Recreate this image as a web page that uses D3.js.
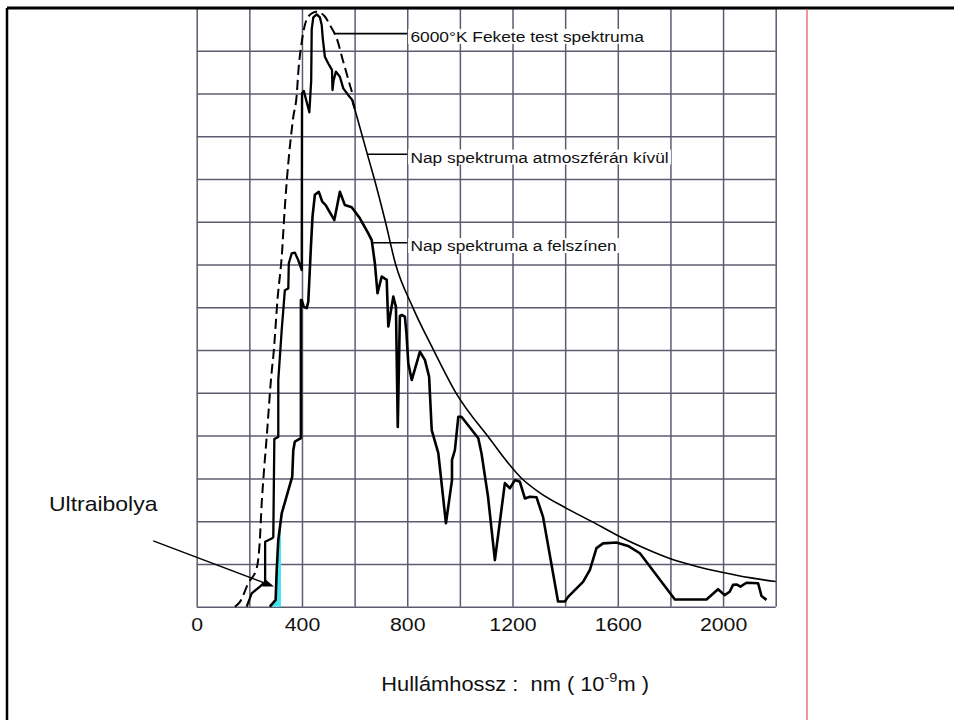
<!DOCTYPE html>
<html>
<head>
<meta charset="utf-8">
<script src="https://cdn.jsdelivr.net/npm/d3@7"></script>
<style>
  body { margin: 0; background: #fff; }
  svg { display: block; font-family: "Liberation Sans", Arial, sans-serif; }
</style>
</head>
<body>
<div id="chart"></div>
<script>
// wavelength in nm, intensity in grid cells (the original has no y scale)
const blackBody = [
  [145, 0], [165, 0.12], [196, 0.55], [228, 0.9], [240, 1.56], [247, 2.42], [253, 2.96],
  [266, 3.97], [285, 5.5], [291, 5.85], [308, 7.25], [323, 8.18], [335, 9.35], [348, 10.37],
  [361, 11.15], [367, 11.45], [380, 11.96], [386, 12.5], [399, 13.2], [411, 13.6], [424, 13.8],
  [456, 13.91], [487, 13.8], [506, 13.6], [532, 13.29], [557, 12.74], [582, 12.2], [595, 11.92]
];
const outsideAtmosphere = [
  [190, 0], [209, 0.31], [240, 0.47], [260, 0.58], [260, 1.52], [287, 1.6], [291, 1.63],
  [295, 3.92], [310, 3.97], [310, 5.3], [323, 6.47], [335, 7.4], [348, 7.44], [350, 8.03],
  [361, 8.26], [373, 8.28], [386, 8.1], [399, 7.87], [400, 12.0], [407, 12.06], [428, 11.56],
  [435, 12.3], [437, 13.5], [443, 13.78], [456, 13.85], [468, 13.78], [475, 13.6], [479, 13.29],
  [487, 12.86], [500, 12.7], [514, 12.55], [516, 12.08], [520, 12.3], [529, 12.51], [544, 12.39],
  [557, 12.12], [576, 11.96], [591, 11.85], [600, 11.65], [652, 10.5], [675, 10.0], [717, 9.0],
  [756, 8.0], [821, 7.0], [900, 6.0], [985, 5.0], [1109, 3.96], [1238, 2.98], [1300, 2.68],
  [1405, 2.3], [1502, 1.99], [1601, 1.66], [1700, 1.37], [1800, 1.12], [1900, 0.94], [2000, 0.8],
  [2100, 0.68], [2200, 0.59]
];
const atSurface = [
  [278, 0], [300, 0.16], [304, 0.86], [310, 1.56], [323, 2.18], [363, 3.04], [367, 3.66],
  [373, 3.86], [396, 3.94], [396, 7.17], [399, 7.17], [407, 7.01], [418, 6.98], [424, 7.13],
  [434, 8.42], [440, 9.12], [449, 9.63], [464, 9.7], [477, 9.47], [490, 9.39], [523, 9.04],
  [544, 9.7], [563, 9.39], [589, 9.34], [620, 9.08], [652, 8.73], [665, 8.57], [677, 8.03],
  [687, 7.33], [703, 7.72], [722, 7.64], [728, 6.55], [747, 7.25], [757, 7.01], [764, 4.2],
  [772, 6.8], [779, 6.82], [791, 6.78], [797, 6.39], [804, 5.69], [817, 5.3], [848, 5.96],
  [867, 5.77], [883, 5.38], [893, 4.13], [918, 3.59], [947, 1.95], [970, 2.96], [970, 3.43],
  [981, 3.66], [994, 4.44], [1006, 4.44], [1070, 3.94], [1082, 3.59], [1107, 2.57], [1133, 1.09],
  [1171, 2.89], [1190, 2.77], [1209, 2.96], [1228, 2.92], [1247, 2.53], [1266, 2.57], [1291, 2.56],
  [1316, 2.1], [1373, 0.12], [1399, 0.12], [1411, 0.23], [1468, 0.58], [1494, 0.86], [1519, 1.37],
  [1544, 1.48], [1595, 1.5], [1639, 1.42], [1684, 1.25], [1817, 0.17], [1937, 0.17], [1981, 0.41],
  [2006, 0.27], [2025, 0.35], [2038, 0.51], [2051, 0.52], [2066, 0.47], [2089, 0.56], [2133, 0.55],
  [2146, 0.25], [2165, 0.16]
];
const xTicks = [0, 400, 800, 1200, 1600, 2000];
const xGrid = d3.range(0, 2201, 200);
const yGrid = d3.range(0, 15);
const uvLimit = 320;
const jaggedEnd = 600;
const labels = [
  { text: '6000°K Fekete test spektruma', from: [521, 13.4] },
  { text: 'Nap spektruma atmoszférán kívül', from: [651, 10.58] },
  { text: 'Nap spektruma a felszínen', from: [670, 8.51] }
];

const W = 954, H = 720;
const stretch = 1.12; // lettering in the source is a bit wide

const svg = d3.select('#chart').append('svg').attr('width', W).attr('height', H);
svg.append('rect').attr('width', W).attr('height', H).attr('fill', '#fff');

const x = d3.scaleLinear().domain([0, 2200]).range([196.7, 775.7]);
const y = d3.scaleLinear().domain([0, 14]).range([606.7, 606.7 - 14 * 42.77]);
const plotW = x.range()[1] - x.range()[0];
const plotH = y.range()[0] - y.range()[1];

// grid
const gx = svg.append('g').attr('transform', `translate(0,${y(0)})`)
  .call(d3.axisBottom(x).tickValues(xGrid).tickSize(-plotH).tickFormat(''));
const gy = svg.append('g').attr('transform', `translate(${x(0)},0)`)
  .call(d3.axisLeft(y).tickValues(yGrid).tickSize(-plotW).tickFormat(''));
[gx, gy].forEach(g => {
  g.select('.domain').remove();
  g.selectAll('line').attr('stroke', '#5c5c70').attr('stroke-width', 1.5);
});

// frame
svg.append('line').attr('x1', 7).attr('x2', W).attr('y1', 8).attr('y2', 8)
  .attr('stroke', '#000').attr('stroke-width', 3);
svg.append('line').attr('x1', 7).attr('x2', 7).attr('y1', 8).attr('y2', H)
  .attr('stroke', '#000').attr('stroke-width', 2.5);
svg.append('line').attr('x1', 807).attr('x2', 807).attr('y1', 9.5).attr('y2', H)
  .attr('stroke', '#e86060').attr('stroke-width', 1.3);

// ultraviolet part under the surface curve
const uvPts = atSurface.filter(d => d[0] <= uvLimit);
const nextPt = atSurface.find(d => d[0] > uvLimit);
const lastPt = uvPts[uvPts.length - 1];
const t = (uvLimit - lastPt[0]) / (nextPt[0] - lastPt[0]);
uvPts.push([uvLimit, lastPt[1] + t * (nextPt[1] - lastPt[1])]);
svg.append('path')
  .attr('d', d3.area().x(d => x(d[0])).y0(y(0)).y1(d => y(d[1]))(uvPts))
  .attr('fill', '#44e3f2');

const line = d3.line().x(d => x(d[0])).y(d => y(d[1]));
const smooth = d3.line().curve(d3.curveMonotoneX).x(d => x(d[0])).y(d => y(d[1]));

svg.append('path').attr('d', smooth(blackBody))
  .attr('fill', 'none').attr('stroke', '#000').attr('stroke-width', 2)
  .attr('stroke-dasharray', '10,5');

svg.append('path').attr('d', line(outsideAtmosphere.filter(d => d[0] <= jaggedEnd)))
  .attr('fill', 'none').attr('stroke', '#000').attr('stroke-width', 2.3)
  .attr('stroke-linejoin', 'round');
svg.append('path').attr('d', smooth(outsideAtmosphere.filter(d => d[0] >= 591)))
  .attr('fill', 'none').attr('stroke', '#000').attr('stroke-width', 1.6);

svg.append('path').attr('d', line(atSurface))
  .attr('fill', 'none').attr('stroke', '#000').attr('stroke-width', 2.6)
  .attr('stroke-linejoin', 'round');

// curve labels with leaders
const leaderEnd = 800, textStart = 812;
labels.forEach(l => {
  const ly = y(l.from[1]);
  const g = svg.append('g')
    .attr('transform', `translate(${x(textStart)},${ly + 8.5}) scale(${stretch},1)`);
  const txt = g.append('text').attr('font-size', 15.5).attr('fill', '#111').text(l.text);
  const bb = txt.node().getBBox();
  g.insert('rect', 'text').attr('x', bb.x - 2).attr('y', bb.y + 1).attr('width', bb.width + 4)
    .attr('height', bb.height - 2).attr('fill', '#fff');
  svg.append('line').attr('x1', x(l.from[0])).attr('x2', x(leaderEnd))
    .attr('y1', ly).attr('y2', ly).attr('stroke', '#000').attr('stroke-width', 1.6);
});

// Ultraibolya annotation with arrow
const arrowFrom = [x(-165), y(1.54)], arrowTo = [x(293.6), y(0.47)];
const ang = Math.atan2(arrowTo[1] - arrowFrom[1], arrowTo[0] - arrowFrom[0]);
const headLen = 11, headHalf = 4;
const base = [arrowTo[0] - headLen * Math.cos(ang), arrowTo[1] - headLen * Math.sin(ang)];
svg.append('line')
  .attr('x1', arrowFrom[0]).attr('y1', arrowFrom[1]).attr('x2', base[0]).attr('y2', base[1])
  .attr('stroke', '#000').attr('stroke-width', 1.3);
svg.append('path')
  .attr('d', d3.line()([
    arrowTo,
    [base[0] + headHalf * Math.sin(ang), base[1] - headHalf * Math.cos(ang)],
    [base[0] - headHalf * Math.sin(ang), base[1] + headHalf * Math.cos(ang)]
  ]) + 'Z')
  .attr('fill', '#000');
svg.append('g').attr('transform', `translate(${x(-561)},${y(2.24)}) scale(${stretch},1)`)
  .append('text').attr('font-size', 20.5).attr('fill', '#111').text('Ultraibolya');

// x axis labels
const ax = svg.append('g').attr('transform', `translate(0,${y(0)})`)
  .call(d3.axisBottom(x).tickValues(xTicks).tickSize(0).tickPadding(11).tickFormat(d3.format('d')));
ax.select('.domain').remove();
ax.selectAll('text').attr('font-size', 19).attr('fill', '#111')
  .attr('font-family', '"Liberation Sans", Arial, sans-serif')
  .attr('transform', `scale(${stretch},1)`);

const title = svg.append('g')
  .attr('transform', `translate(${x(1210)},${y(-1.97)}) scale(${stretch},1)`)
  .append('text').attr('text-anchor', 'middle').attr('font-size', 19.5).attr('fill', '#111')
  .style('white-space', 'pre');
title.append('tspan').text('Hullámhossz :  nm ( 10');
title.append('tspan').attr('font-size', 13).attr('dy', -9).text('-9');
title.append('tspan').attr('dy', 9).text('m )');
</script>
</body>
</html>
